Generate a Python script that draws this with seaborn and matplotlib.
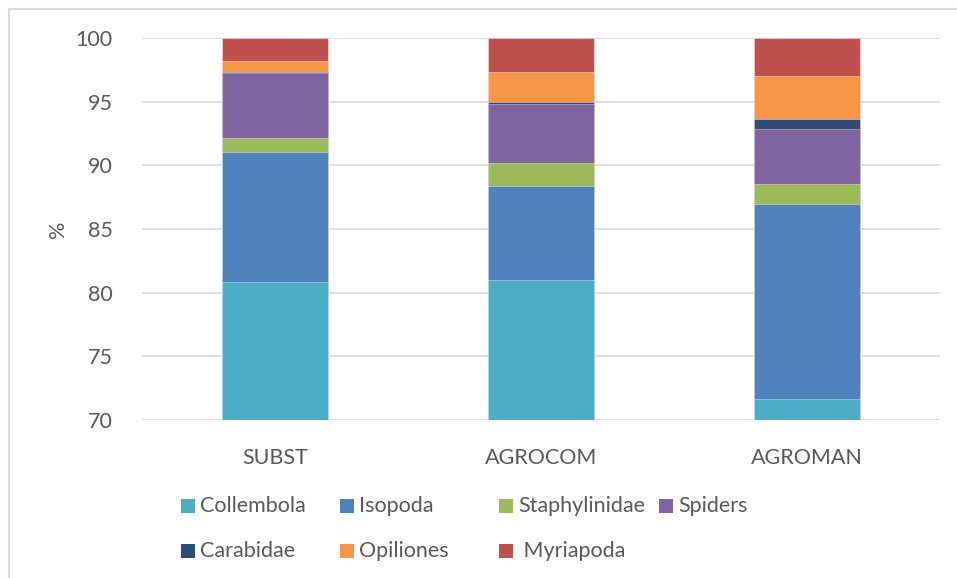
import matplotlib
matplotlib.use("Agg")
import matplotlib.pyplot as plt
from matplotlib.patches import Rectangle
from matplotlib.lines import Line2D
import seaborn as sns
import pandas as pd
import numpy as np

# Relative abundance (%) of soil fauna groups per management system
sites = ["SUBST", "AGROCOM", "AGROMAN"]
groups = ["Collembola", "Isopoda", "Staphylinidae", "Spiders",
          "Carabidae", "Opiliones", "Myriapoda"]
collembola = [80.85, 81.02, 71.62]
isopoda = [10.22, 7.33, 15.34]
staphylinidae = [1.05, 1.86, 1.55]
spiders = [5.11, 4.61, 4.34]
carabidae = [0.13, 0.18, 0.79]
opiliones = [0.83, 2.30, 3.38]
myriapoda = [1.81, 2.70, 2.98]

colors = ["#4BACC6", "#4F81BD", "#9BBB59", "#8064A2",
          "#2C4D75", "#F79646", "#C0504D"]
legend_labels = ["Collembola", "Isopoda", "Staphylinidae", "Spiders",
                 "Carabidae", "Opiliones", " Myriapoda"]

values = np.array([collembola, isopoda, staphylinidae, spiders,
                   carabidae, opiliones, myriapoda])
cumulative = np.cumsum(values, axis=0)

sns.set_theme(style="white")
plt.rcParams["font.family"] = ["Lato", "DejaVu Sans"]
text_color = "#595959"
grid_color = "#D9D9D9"
fs = 15.5

W, H = 957, 578
fig = plt.figure(figsize=(W / 100, H / 100), dpi=100)
ax = fig.add_axes([142 / W, 1 - 420 / H, (940 - 142) / W, (420 - 38) / H])

# Stacked bars: draw running totals from the top layer downwards
for i in range(len(groups) - 1, -1, -1):
    df = pd.DataFrame({"site": sites, "total": cumulative[i]})
    sns.barplot(data=df, x="site", y="total", color=colors[i],
                saturation=1, width=0.4, ax=ax, zorder=3,
                edgecolor=(1, 1, 1, 0.45), linewidth=0.6)

ax.set_ylim(70, 100)
ax.set_yticks(range(70, 101, 5))
ax.set_xlim(-0.5, 2.5)
ax.grid(axis="y", color=grid_color, linewidth=1.2, zorder=0)
ax.set_axisbelow(True)
for s in ax.spines.values():
    s.set_visible(False)
ax.tick_params(axis="both", length=0, labelsize=fs, colors=text_color)
ax.tick_params(axis="y", pad=21)
ax.tick_params(axis="x", pad=20)
ax.set_xlabel("")
ax.set_ylabel("")
fig.text(58 / W, 1 - 229 / H, "%", rotation=90, ha="center", va="center",
         fontsize=fs, color=text_color)

# Legend laid out in two rows
col_x = [181, 340, 499, 659, 181, 340, 499]
row_y = [506, 506, 506, 506, 551, 551, 551]
sq = 14
for lab, c, x, y in zip(legend_labels, colors, col_x, row_y):
    fig.patches.append(Rectangle((x / W, 1 - (y + sq / 2) / H), sq / W, sq / H,
                                 transform=fig.transFigure, facecolor=c,
                                 edgecolor="none"))
    fig.text((x + sq + 5) / W, 1 - y / H, lab, ha="left", va="center",
             fontsize=fs, color=text_color)

# Chart frame (top and left edges)
fig.add_artist(Line2D([8.5 / W, 1], [1 - 8.5 / H, 1 - 8.5 / H],
                      transform=fig.transFigure, color=grid_color, linewidth=1.5))
fig.add_artist(Line2D([8.5 / W, 8.5 / W], [0, 1 - 8.5 / H],
                      transform=fig.transFigure, color=grid_color, linewidth=1.5))

fig.savefig("out.png", dpi=100)
